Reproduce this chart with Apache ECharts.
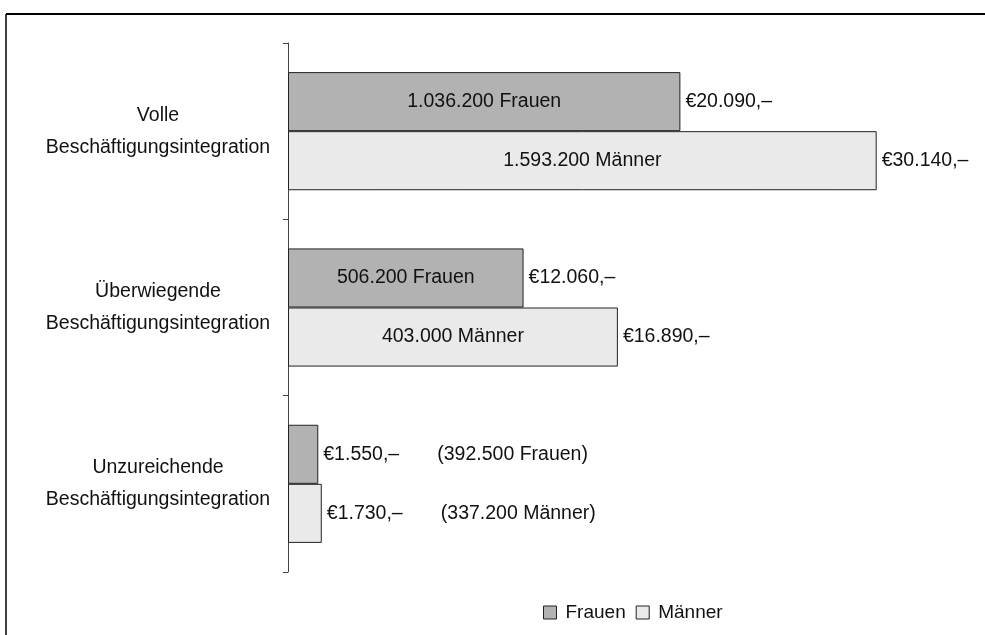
<!DOCTYPE html>
<html>
<head>
<meta charset="utf-8">
<script src="https://cdn.jsdelivr.net/npm/echarts@6/dist/echarts.min.js"></script>
<style>
  html, body { margin: 0; padding: 0; background: #fff; }
  #chart { width: 985px; height: 635px; }
</style>
</head>
<body>
<div id="chart"></div>
<script>
// Jahreseinkommen (Median) und Anzahl Personen nach Grad der Beschäftigungsintegration
const categories = [
  'Volle\nBeschäftigungsintegration',
  'Überwiegende\nBeschäftigungsintegration',
  'Unzureichende\nBeschäftigungsintegration'
];
const seriesNames = ['Frauen', 'Männer'];
const incomeFrauen = [20090, 12060, 1550];
const incomeMaenner = [30140, 16890, 1730];
const countFrauen = [1036200, 506200, 392500];
const countMaenner = [1593200, 403000, 337200];
// Bars narrower than this carry their head-count label outside, in brackets
const insideLabelMin = 5000;

const FONT = '"Liberation Sans", Arial, sans-serif';
const TEXT = '#111';
const FS = 19.5;

function groupDigits(n) {
  return String(n).replace(/\B(?=(\d{3})+(?!\d))/g, '.');
}
function euro(v) {
  return '€' + groupDigits(v) + ',–';
}

function countData(values, counts, name) {
  return values.map(function (v, i) {
    const txt = groupDigits(counts[i]) + ' ' + name;
    if (v >= insideLabelMin) {
      return { value: v, label: { position: 'inside', formatter: txt } };
    }
    return { value: v, label: { position: 'right', distance: 119, formatter: '(' + txt + ')' } };
  });
}

const labelText = { color: TEXT, fontFamily: FONT, fontSize: FS };
const barShape = { barGap: '0%', barCategoryGap: '33%' };

const chart = echarts.init(document.getElementById('chart'), null, { renderer: 'canvas' });

chart.setOption({
  animation: false,
  backgroundColor: '#fff',
  textStyle: { fontFamily: FONT },
  graphic: [
    { type: 'line', shape: { x1: 6, y1: 14, x2: 985, y2: 14 }, style: { stroke: '#000', lineWidth: 2 } },
    { type: 'line', shape: { x1: 6, y1: 14, x2: 6, y2: 635 }, style: { stroke: '#000', lineWidth: 1.5 } }
  ],
  legend: {
    data: seriesNames,
    left: 538,
    top: 598,
    itemWidth: 13,
    itemHeight: 13,
    itemGap: 10,
    icon: 'rect',
    textStyle: { color: TEXT, fontFamily: FONT, fontSize: 19, padding: [0, 0, 0, 4] },
    itemStyle: { borderColor: '#222', borderWidth: 1 }
  },
  grid: { left: 288, top: 43, width: 683.6, height: 529 },
  xAxis: {
    type: 'value', min: 0, max: 35000, show: false
  },
  yAxis: [
    {
      type: 'category',
      data: categories,
      inverse: true,
      axisLine: { show: true, lineStyle: { color: '#444', width: 1 } },
      axisTick: { show: true, length: 5, lineStyle: { color: '#444' } },
      axisLabel: {
        color: TEXT, fontFamily: FONT, fontSize: FS, lineHeight: 32,
        align: 'center', margin: 130
      }
    },
    {
      type: 'category',
      data: categories,
      inverse: true,
      show: false
    }
  ],
  series: [
    Object.assign({
      name: seriesNames[0],
      type: 'bar',
      yAxisIndex: 0,
      data: countData(incomeFrauen, countFrauen, seriesNames[0]),
      itemStyle: { color: '#b2b2b2', borderColor: '#222', borderWidth: 1 },
      label: Object.assign({ show: true }, labelText)
    }, barShape),
    Object.assign({
      name: seriesNames[1],
      type: 'bar',
      yAxisIndex: 0,
      data: countData(incomeMaenner, countMaenner, seriesNames[1]),
      itemStyle: { color: '#eaeaea', borderColor: '#222', borderWidth: 1 },
      label: Object.assign({ show: true }, labelText)
    }, barShape),
    // Transparent twins carrying the income labels at the bar ends
    Object.assign({
      name: seriesNames[0] + ' Einkommen',
      type: 'bar',
      yAxisIndex: 1,
      data: incomeFrauen,
      silent: true,
      itemStyle: { color: 'rgba(0,0,0,0)' },
      label: Object.assign({ show: true, position: 'right', distance: 5, formatter: function (p) { return euro(p.value); } }, labelText)
    }, barShape),
    Object.assign({
      name: seriesNames[1] + ' Einkommen',
      type: 'bar',
      yAxisIndex: 1,
      data: incomeMaenner,
      silent: true,
      itemStyle: { color: 'rgba(0,0,0,0)' },
      label: Object.assign({ show: true, position: 'right', distance: 5, formatter: function (p) { return euro(p.value); } }, labelText)
    }, barShape)
  ]
});
</script>
</body>
</html>
